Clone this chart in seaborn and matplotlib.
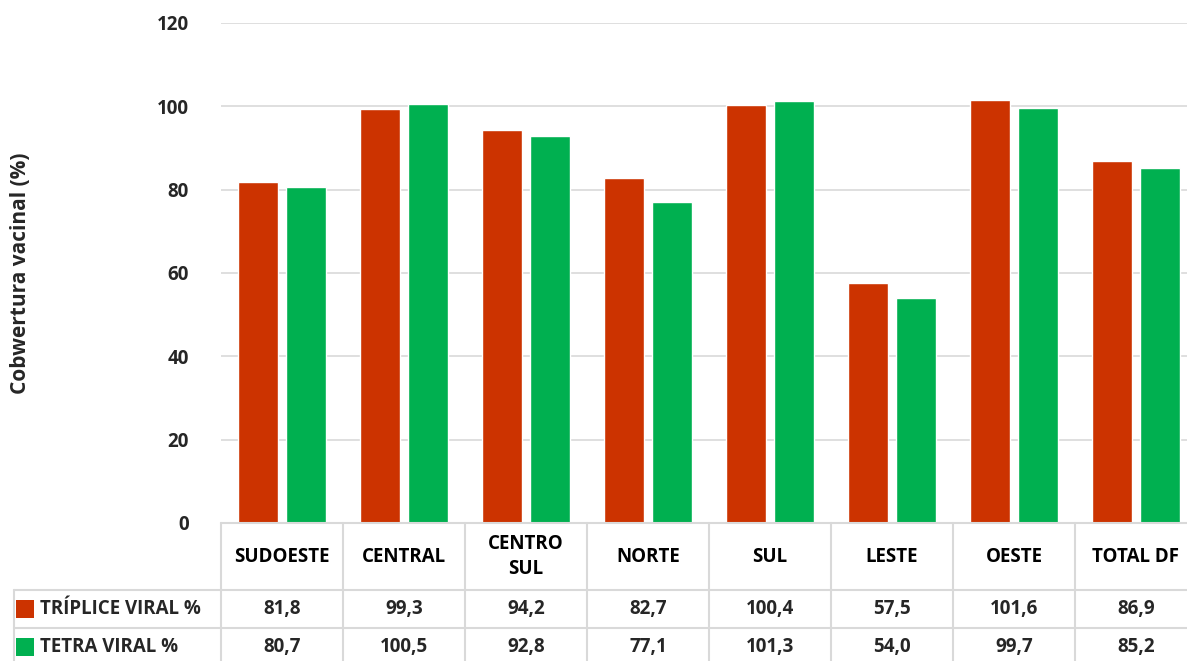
import matplotlib.pyplot as plt
import numpy as np
import pandas as pd
import seaborn as sns
from matplotlib.patches import Rectangle
from matplotlib.lines import Line2D

# Dados do gráfico
regioes = ["SUDOESTE", "CENTRAL", "CENTRO\nSUL", "NORTE", "SUL", "LESTE", "OESTE", "TOTAL DF"]
triplice = [81.8, 99.3, 94.2, 82.7, 100.4, 57.5, 101.6, 86.9]
tetra = [80.7, 100.5, 92.8, 77.1, 101.3, 54.0, 99.7, 85.2]
series = ["TRÍPLICE VIRAL %", "TETRA VIRAL %"]
cores = ["#CC3300", "#00B050"]
y_ticks = [0, 20, 40, 60, 80, 100, 120]

df = pd.DataFrame({
    "regiao": regioes * 2,
    "serie": [series[0]] * len(regioes) + [series[1]] * len(regioes),
    "cobertura": triplice + tetra,
})

sns.set_theme(style="white")
plt.rcParams["font.family"] = ["Open Sans", "DejaVu Sans"]
plt.rcParams["font.weight"] = "bold"
FS = 13.5

W, H = 1187, 661
fig = plt.figure(figsize=(W / 100, H / 100), dpi=100)
# eixo estende-se além da borda direita (recorte como no original)
ax_left, ax_bottom, ax_w, ax_h = 221, 523, 976, 500
ax = fig.add_axes([ax_left / W, (H - ax_bottom) / H, ax_w / W, ax_h / H])

sns.barplot(data=df, x="regiao", y="cobertura", hue="serie", palette=cores,
            order=regioes, hue_order=series, width=0.8, gap=0.18,
            saturation=1, legend=False, ax=ax)

ax.set_xlim(-0.5, len(regioes) - 0.5)
ax.set_ylim(0, 120)
ax.set_yticks(y_ticks)
ax.set_yticklabels([str(t) for t in y_ticks], fontsize=13.5, fontweight="bold")
ax.tick_params(axis="y", length=0, pad=23)
ax.set_xticks([])
ax.set_xlabel("")
ax.set_ylabel("Cobwertura vacinal (%)", fontsize=15, fontweight="bold", labelpad=0)
ax.yaxis.set_label_coords(-(221 - 31) / ax_w, 0.5)
ax.grid(axis="y", color="#d9d9d9", linewidth=1.2)
ax.set_axisbelow(True)
for s in ax.spines.values():
    s.set_visible(False)

# Tabela de dados abaixo do gráfico
cor_linha = "#d9d9d9"
trans = ax.get_xaxis_transform()
y_hdr = -(590 - 523) / ax_h
y_r1 = -(628 - 523) / ax_h
y_fim = -(670 - 523) / ax_h
y_c1 = -(609 - 523) / ax_h
y_c2 = -(647 - 523) / ax_h
px = ax_w / len(regioes)
x_esq = -0.5 - (221 - 14) / px

for xb in np.arange(len(regioes) + 1) - 0.5:
    ax.add_line(Line2D([xb, xb], [0, y_fim], transform=trans, color=cor_linha,
                       linewidth=1.5, clip_on=False))
ax.add_line(Line2D([-0.5, len(regioes)], [0, 0], transform=trans, color=cor_linha,
                   linewidth=1.5, clip_on=False))
for yl in [y_hdr, y_r1]:
    ax.add_line(Line2D([x_esq, len(regioes)], [yl, yl], transform=trans, color=cor_linha,
                       linewidth=1.5, clip_on=False))
ax.add_line(Line2D([x_esq, x_esq], [y_hdr, y_fim], transform=trans, color=cor_linha,
                   linewidth=1.5, clip_on=False))

for i, r in enumerate(regioes):
    ax.text(i, y_hdr / 2, r, transform=trans, ha="center", va="center",
            fontsize=FS, fontweight="bold", color="black", linespacing=1.3)
    ax.text(i, y_c1, f"{triplice[i]:.1f}".replace(".", ","),
            transform=trans, ha="center", va="center", fontsize=FS, fontweight="bold")
    ax.text(i, y_c2, f"{tetra[i]:.1f}".replace(".", ","),
            transform=trans, ha="center", va="center", fontsize=FS, fontweight="bold")

# rótulos de linha com marcadores de legenda
for nome, cor, yc in zip(series, cores, [y_c1, y_c2]):
    x_sq = x_esq + 2 / px
    ax.add_patch(Rectangle((x_sq, yc - 9 / ax_h), 18 / px, 18 / ax_h, transform=trans,
                           facecolor=cor, edgecolor="none", clip_on=False))
    ax.text(x_sq + 24 / px, yc, nome, transform=trans, ha="left", va="center",
            fontsize=FS, fontweight="bold")

plt.savefig("out.png", dpi=100)
